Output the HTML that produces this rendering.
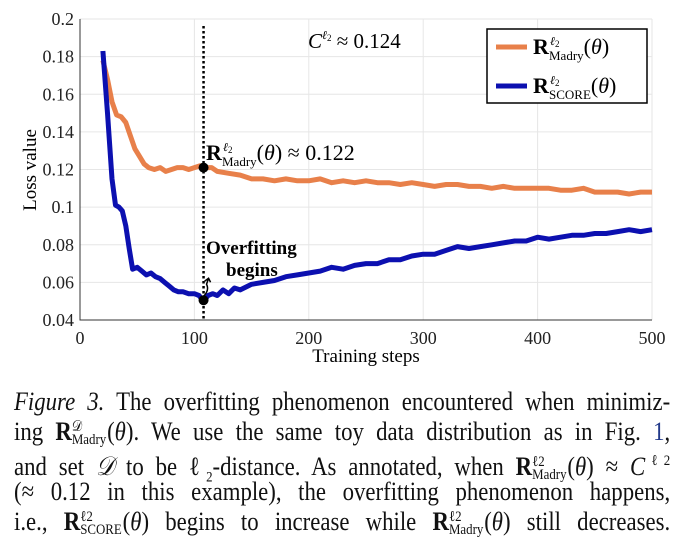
<!DOCTYPE html>
<html><head><meta charset="utf-8"><style>
body{margin:0;background:#fff;width:684px;height:552px;overflow:hidden;font-family:"Liberation Serif",serif}
.cap{position:absolute;left:14px;width:763px;font-size:26.5px;line-height:30px;text-align:justify;text-align-last:justify;white-space:nowrap;color:#111;transform:scaleX(0.86);transform-origin:0 0}
.ss{display:inline-flex;flex-direction:column;vertical-align:middle;font-size:15px;line-height:13px;margin-right:1px;text-align:left;text-align-last:left}
.ss span{text-align:left;text-align-last:left;white-space:nowrap}
.sp{font-size:15px;vertical-align:10px}
</style></head><body>
<svg id="chart" width="684" height="375" style="position:absolute;left:0;top:0" font-family="Liberation Serif, serif"></svg>
<div class="cap" style="top:386px"><i>Figure 3.</i> The overfitting phenomenon encountered when minimiz-</div>
<div class="cap" style="top:416px">ing <b>R</b><span class="ss"><span>𝒟</span><span>Madry</span></span>(<i>θ</i>). We use the same toy data distribution as in Fig. <span style="color:#223a8a">1</span>,</div>
<div class="cap" style="top:446px">and set <i>𝒟</i> to be ℓ<sub style="font-size:15px">2</sub>-distance. As annotated, when <b>R</b><span class="ss"><span>ℓ2</span><span>Madry</span></span>(<i>θ</i>) ≈ <i>C</i><span class="sp">ℓ2</span></div>
<div class="cap" style="top:476px">(≈ 0.12 in this example), the overfitting phenomenon happens,</div>
<div class="cap" style="top:506px">i.e., <b>R</b><span class="ss"><span>ℓ2</span><span>SCORE</span></span>(<i>θ</i>) begins to increase while <b>R</b><span class="ss"><span>ℓ2</span><span>Madry</span></span>(<i>θ</i>) still decreases.</div>
<script>
const xTicks=[0,100,200,300,400,500];
const yTicks=[0.04,0.06,0.08,0.1,0.12,0.14,0.16,0.18,0.2];
const yTickLabels=["0.04","0.06","0.08","0.1","0.12","0.14","0.16","0.18","0.2"];
const madrySteps=[20,24,28,32,36,40,44,48,52,56,60,65,70,75,80,85,90,95,100,105,110,115,120,130,140,150,160,170,180,190,200,210,220,230,240,250,260,270,280,290,300,310,320,330,340,350,360,370,380,390,400,410,420,430,440,450,460,470,480,490,500];
const madryVals=[0.178,0.168,0.156,0.149,0.148,0.145,0.138,0.131,0.127,0.123,0.121,0.120,0.121,0.119,0.120,0.121,0.121,0.120,0.121,0.122,0.121,0.121,0.119,0.118,0.117,0.115,0.115,0.114,0.115,0.114,0.114,0.115,0.113,0.114,0.113,0.114,0.113,0.113,0.112,0.113,0.112,0.111,0.112,0.112,0.111,0.111,0.110,0.111,0.110,0.110,0.110,0.110,0.109,0.109,0.110,0.108,0.108,0.108,0.107,0.108,0.108];
const scoreSteps=[20,24,28,31,34,37,40,43,46,50,54,58,62,66,70,74,78,82,86,90,95,100,104,108,112,116,120,125,130,135,140,150,160,170,180,190,200,210,220,230,240,250,260,270,280,290,300,310,320,330,340,350,360,370,380,390,400,410,420,430,440,450,460,470,480,490,500];
const scoreVals=[0.183,0.150,0.115,0.101,0.100,0.098,0.090,0.078,0.067,0.068,0.066,0.064,0.065,0.063,0.062,0.060,0.058,0.056,0.055,0.055,0.054,0.054,0.053,0.050,0.053,0.054,0.053,0.056,0.054,0.057,0.056,0.059,0.060,0.061,0.063,0.064,0.065,0.066,0.068,0.067,0.069,0.070,0.070,0.072,0.072,0.074,0.075,0.075,0.077,0.079,0.078,0.079,0.080,0.081,0.082,0.082,0.084,0.083,0.084,0.085,0.085,0.086,0.086,0.087,0.088,0.087,0.088];
const svg=document.getElementById('chart');const NS='http://www.w3.org/2000/svg';
const X0=80,X1=652,Y0=320,Y1=19;
const sx=v=>X0+(v-0)/500*(X1-X0);
const sy=v=>Y0-(v-0.04)/0.16*(Y0-Y1);
function el(t,a,p){const e=document.createElementNS(NS,t);for(const k in a)e.setAttribute(k,a[k]);(p||svg).appendChild(e);return e;}
let r=el('rect',{x:X0,y:Y1,width:X1-X0,height:Y0-Y1,fill:'#fff',stroke:'none'});

xTicks.forEach(t=>{let g=el('line',{x1:sx(t),x2:sx(t),y1:Y1,y2:Y0,stroke:'#e6e6e6'});
let l=el('text',{x:sx(t),y:Y0+24,'text-anchor':'middle','font-size':18,fill:'#222'});l.textContent=t;});
yTicks.forEach((t,i)=>{let g=el('line',{x1:X0,x2:X1,y1:sy(t),y2:sy(t),stroke:'#e6e6e6'});
let l=el('text',{x:X0-6,y:sy(t)+6,'text-anchor':'end','font-size':18,fill:'#222'});l.textContent=yTickLabels[i];});
let ax=el('path',{d:`M${X0} ${Y1}V${Y0}H${X1}`,stroke:'#333',fill:'none','stroke-width':1});
let vl=el('line',{x1:sx(108),x2:sx(108),y1:Y1+7,y2:Y0,stroke:'#000','stroke-width':2.5,'stroke-dasharray':'2.5,2.5'});
function line(xs,ys,c,n){let d=xs.map((x,i)=>(i?'L':'M')+sx(x).toFixed(1)+' '+sy(ys[i]).toFixed(1)).join('');let p=el('path',{d,stroke:c,'stroke-width':5,fill:'none','stroke-linejoin':'round'});}
line(madrySteps,madryVals,'#e8804a','madry-series');
line(scoreSteps,scoreVals,'#0c10b0','score-series');
let d1=el('circle',{cx:sx(108),cy:sy(0.121),r:5,fill:'#000'});
let d2=el('circle',{cx:sx(108),cy:sy(0.0505),r:5,fill:'#000'});
let ar=el('path',{d:`M${sx(108)} ${sy(0.0505)-4} q6 -6 3 -12 l2 -6 m-4 3 l4 -3 l2 4`,stroke:'#000','stroke-width':1.5,fill:'none'});
function txt(x,y,s,html,n,extra){let t=el('text',Object.assign({x,y,'font-size':s,fill:'#000'},extra||{}));t.innerHTML=html;return t;}
function rsym(x,y,sub,rest,n){
 let t=txt(x,y,22,`<tspan font-weight="bold">R</tspan><tspan x="${x+17}" dy="-9" font-size="12" font-style="italic">ℓ</tspan><tspan font-size="9" dy="2">2</tspan><tspan x="${x+16}" y="${y+6}" font-size="13">${sub}</tspan><tspan y="${y}">${rest}</tspan>`,n);return t;}
txt(206,254,19,'Overfitting','overfit-label',{'font-weight':'bold'});
txt(226,276,19,'begins','overfit-label-2',{'font-weight':'bold'});
rsym(206,160,'Madry','(<tspan font-style="italic">θ</tspan>) ≈ 0.122','madry-annotation');
txt(308,48,21,'<tspan font-style="italic">C</tspan><tspan font-size="12" dy="-9" font-style="italic">ℓ</tspan><tspan font-size="9" dy="2">2</tspan><tspan dy="7"> ≈ 0.124</tspan>','c-annotation');
let lg=el('rect',{x:487,y:29,width:160,height:74,fill:'#fff',stroke:'#000','stroke-width':1.5});
let l1=el('line',{x1:496,x2:527,y1:47,y2:47,stroke:'#e8804a','stroke-width':5});
let l2=el('line',{x1:496,x2:527,y1:86,y2:86,stroke:'#0c10b0','stroke-width':5});
rsym(533,54,'Madry','(<tspan font-style="italic">θ</tspan>)','legend-entry-madry');
rsym(533,93,'SCORE','(<tspan font-style="italic">θ</tspan>)','legend-entry-score');
txt(366,362,19,'Training steps','x-axis-title',{'text-anchor':'middle'});
txt(0,0,19,'Loss value','y-axis-title',{'text-anchor':'middle',transform:'translate(36,170) rotate(-90)'});
</script>
</body></html>
